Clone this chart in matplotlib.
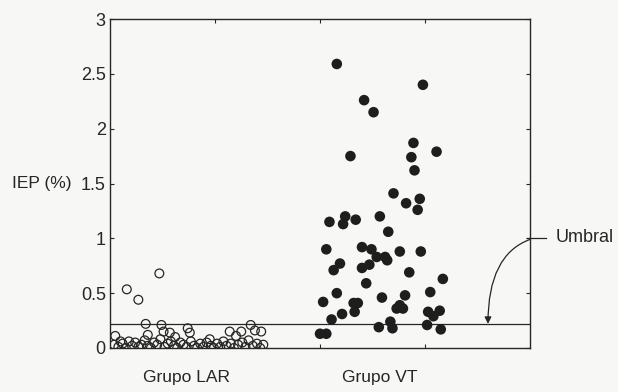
import matplotlib
matplotlib.use("Agg")
import matplotlib.pyplot as plt

plt.rcParams["font.family"] = ["Liberation Sans", "DejaVu Sans"]

# Grupo LAR (open circles): jitter position, IEP (%)
lar_x = [0.16, 0.27, 0.47,
         0.34, 0.49, 0.51, 0.57, 0.74, 0.76, 1.14, 1.25, 1.34, 1.38, 1.44,
         0.36, 0.05, 0.10, 0.62, 0.95, 1.20,
         0.04, 0.08, 0.12, 0.15, 0.18, 0.21, 0.24, 0.27, 0.30, 0.33, 0.36,
         0.39, 0.42, 0.45, 0.48, 0.52, 0.55, 0.58, 0.61, 0.64, 0.67, 0.70,
         0.73, 0.77, 0.80, 0.83, 0.86, 0.89, 0.92, 0.96, 0.99, 1.02, 1.05,
         1.08, 1.11, 1.15, 1.18, 1.22, 1.26, 1.29, 1.32, 1.36, 1.40, 1.43, 1.46]
lar_y = [0.535, 0.44, 0.68,
         0.22, 0.21, 0.15, 0.14, 0.18, 0.14, 0.15, 0.15, 0.21, 0.16, 0.15,
         0.12, 0.11, 0.06, 0.10, 0.08, 0.11,
         0.03, 0.01, 0.04, 0.00, 0.06, 0.02, 0.05, 0.01, 0.03, 0.07, 0.02,
         0.00, 0.05, 0.03, 0.08, 0.01, 0.04, 0.06, 0.02, 0.00, 0.05, 0.03,
         0.01, 0.06, 0.02, 0.00, 0.04, 0.01, 0.05, 0.02, 0.00, 0.04, 0.01,
         0.06, 0.02, 0.04, 0.00, 0.03, 0.05, 0.01, 0.07, 0.02, 0.04, 0.00, 0.03]

# Grupo VT (filled dots)
vt_x = [2.16, 2.98, 2.42, 2.51, 2.89, 3.11, 2.29, 2.87, 2.90, 2.70,
        2.82, 2.95, 2.93, 2.09, 2.24, 2.22, 2.34, 2.57, 2.65, 2.06,
        2.40, 2.49, 2.76, 2.96, 2.54, 2.62, 2.64, 2.19, 2.13, 2.40,
        2.47, 2.85, 3.17, 2.44, 2.16, 2.03, 3.05, 2.59, 2.81, 2.32,
        2.36, 2.33, 2.76, 2.73, 2.79, 2.21, 2.11, 3.03, 3.14, 3.08,
        2.56, 2.67, 2.69, 3.02, 3.15, 2.00, 2.06]
vt_y = [2.59, 2.40, 2.26, 2.15, 1.87, 1.79, 1.75, 1.74, 1.62, 1.41,
        1.32, 1.36, 1.26, 1.15, 1.20, 1.13, 1.17, 1.20, 1.06, 0.90,
        0.92, 0.90, 0.88, 0.88, 0.83, 0.83, 0.80, 0.77, 0.71, 0.73,
        0.76, 0.69, 0.63, 0.59, 0.50, 0.42, 0.51, 0.46, 0.48, 0.41,
        0.41, 0.33, 0.39, 0.36, 0.36, 0.31, 0.26, 0.33, 0.34, 0.29,
        0.19, 0.24, 0.18, 0.21, 0.17, 0.13, 0.13]

threshold = 0.22
y_ticks = [0, 0.5, 1, 1.5, 2, 2.5, 3]
y_tick_labels = ["0", "0.5", "1", "1.5", "2", "2.5", "3"]
group_labels = ["Grupo LAR", "Grupo VT"]
group_label_x = [0.73, 2.57]

ink = "#262626"
bg = "#f7f7f5"

fig = plt.figure(figsize=(6.18, 3.92), dpi=100, facecolor=bg)
ax = fig.add_axes([110 / 618, 1 - 348 / 392, 420 / 618, 329 / 392])
ax.set_facecolor(bg)

ax.axhline(threshold, color=ink, lw=0.9, zorder=1)
ax.scatter(lar_x, lar_y, s=40, facecolors="none", edgecolors=ink, linewidths=0.9, zorder=3)
ax.scatter(vt_x, vt_y, s=58, color="#1e1e1e", edgecolors="none", zorder=3)

ax.set_xlim(0, 4)
ax.set_ylim(0, 3)
ax.set_xticks([1, 2, 3])
ax.set_xticklabels([])
ax.set_yticks(y_ticks)
ax.set_yticklabels(y_tick_labels)
ax.tick_params(direction="in", length=3, width=0.8, color=ink,
               labelsize=13, labelcolor=ink, pad=3,
               right=True, top=True)
for s in ax.spines.values():
    s.set_color(ink)
    s.set_linewidth(1.0)

for lbl, gx in zip(group_labels, group_label_x):
    ax.text(gx, -0.27, lbl, ha="center", va="center", fontsize=12.5, color=ink)

ax.text(-0.37, 1.5, "IEP (%)", ha="right", va="center", fontsize=12.5, color=ink,
        clip_on=False)

# threshold annotation
ax.annotate("", xy=(3.6, threshold), xytext=(4.0, 0.99),
            arrowprops=dict(arrowstyle="-|>", connectionstyle="angle3,angleA=20,angleB=90",
                            color=ink, lw=0.9, shrinkA=0, shrinkB=0, mutation_scale=10),
            annotation_clip=False)
ax.plot([3.97, 4.15], [1.0, 1.0], color=ink, lw=0.9, clip_on=False)
ax.text(4.24, 1.01, "Umbral", ha="left", va="center", fontsize=13, color=ink, clip_on=False)

fig.savefig("out.png", dpi=100, facecolor=bg)
